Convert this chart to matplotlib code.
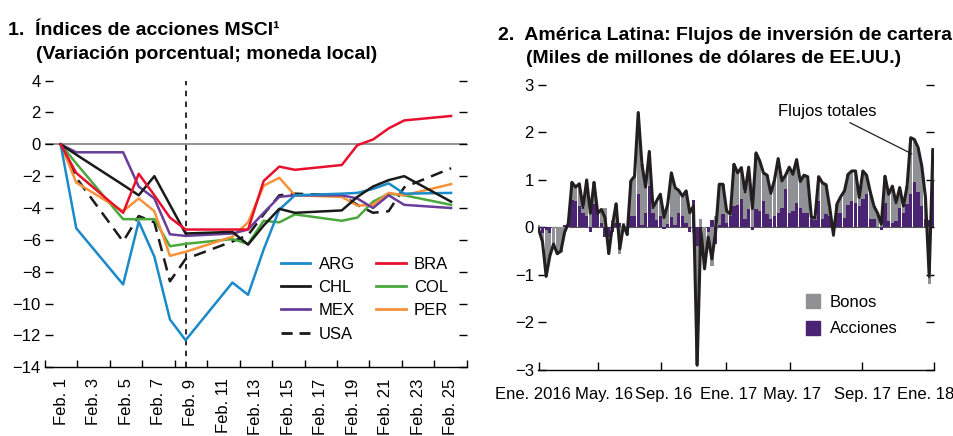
import numpy as np
import matplotlib
matplotlib.use("Agg")
import matplotlib.pyplot as plt
import matplotlib.transforms as mtransforms
from matplotlib.patches import Patch
from matplotlib.lines import Line2D

plt.rcParams['font.family'] = ['Liberation Sans Narrow', 'Liberation Sans', 'DejaVu Sans']
plt.rcParams['axes.unicode_minus'] = True

# --- Panel 1: MSCI equity indices, % change since Feb 1 ---
days = [1, 2, 5, 6, 7, 8, 9, 12, 13, 14, 15, 16, 19, 20, 21, 22, 23, 26]
arg = [0, -5.27, -8.8, -4.85, -7.05, -11.0, -12.3, -8.68, -9.45, -6.6, -4.1, -3.2, -3.1, -3.05, -2.8, -2.45, -3.1, -3.05]
bra = [0, -1.8, -4.3, -1.85, -3.2, -4.6, -5.35, -5.35, -5.35, -2.3, -1.4, -1.6, -1.3, -0.05, 0.3, 1.0, 1.5, 1.78]
chl = [0, -0.65, -2.55, -3.2, -2.0, -3.8, -5.6, -5.5, -6.3, -5.1, -4.05, -4.3, -4.15, -3.3, -2.65, -2.25, -2.0, -3.6]
col = [0, -1.2, -4.7, -4.7, -4.7, -6.4, -6.25, -5.95, -6.25, -4.8, -4.9, -4.4, -4.8, -4.6, -3.6, -3.1, -3.2, -3.8]
mex = [0, -0.5, -0.5, -2.65, -3.4, -5.65, -5.75, -5.6, -5.35, -4.3, -3.3, -3.2, -3.2, -3.4, -4.0, -3.2, -3.8, -4.0]
per = [0, -2.4, -4.2, -3.4, -4.2, -7.0, -6.75, -5.8, -4.9, -2.6, -2.1, -3.2, -3.3, -3.85, -3.8, -3.05, -3.2, -2.5]
usa = [0, -2.1, -6.1, -4.5, -4.9, -8.6, -7.2, -6.1, -5.7, -4.4, -3.2, -3.1, -3.2, -3.8, -4.3, -4.2, -2.7, -1.5]
feb_labels = ['Feb. %d' % d for d in range(1, 26, 2)]

# --- Panel 2: Latin America portfolio flows, weekly (US$ billions) ---
total_flows = [
    -0.05, -0.3, -1.03, -0.6, -0.35, -0.55, -0.5, -0.1, 0.08, 0.95,
    0.85, 0.92, 0.42, 1.0, 0.3, 0.95, 0.3, 0.38, 0.2, -0.55,
    0.05, 0.5, -0.45, 0.05, -0.15, 0.98, 1.08, 2.42, 1.33, 0.85,
    1.6, 0.42, 0.56, 0.7, 0.21, 0.49, 1.15, 0.84, 0.78, 0.66,
    0.77, 0.31, 0.45, -2.9, -0.03, -0.87, -0.2, -0.66, -0.1, 0.91,
    0.91, 0.35, 0.28, 1.33, 1.15, 1.26, 0.75, 1.27, 0.4, 1.57,
    1.4, 1.15, 1.1, 0.72, 1.0, 1.45, 0.98, 1.1, 1.27, 1.12,
    1.43, 0.97, 1.1, 1.07, 0.22, 0.2, 1.07, 0.94, 0.9, 0.42,
    -0.15, 0.5, 0.65, 0.77, 1.12, 1.19, 1.19, 0.63, 1.19, 1.1,
    0.75, 0.45, 0.3, 0.07, 1.08, 0.7, 0.87, 0.52, 0.84, 0.45,
    0.87, 1.89, 1.85, 1.68, 1.29, 0.63, -1.03, 1.64,
]
equity_flows = [
    -0.1, -0.12, -0.05, -0.12, 0.0, 0.02, 0.02, 0.05, 0.1, 0.57,
    0.56, 0.45, 0.3, 0.25, -0.1, 0.5, 0.3, 0.1, -0.2, -0.2,
    -0.1, 0.1, 0.1, -0.05, -0.05, 0.25, 0.25, 0.7, 0.05, 0.3,
    0.88, 0.3, 0.15, 0.25, -0.03, 0.07, 0.22, 0.05, 0.3, 0.25,
    0.1, -0.1, 0.57, -0.4, -0.2, 0.0, -0.1, 0.15, -0.35, 0.05,
    0.28, 0.1, 0.25, 0.45, 0.48, 0.59, 0.17, 0.38, -0.05, 0.38,
    0.35, 0.56, 0.28, 0.17, 0.24, 0.31, 0.42, 0.8, 0.31, 0.35,
    0.52, 0.42, 0.3, 0.3, 0.17, 0.15, 0.56, 0.17, 0.28, 0.25,
    0.05, 0.31, 0.31, 0.2, 0.48, 0.55, 0.52, 0.45, 0.6, 0.7,
    0.17, 0.17, 0.02, -0.05, 0.52, 0.14, 0.1, 0.14, 0.42, 0.31,
    0.49, 0.7, 0.95, 0.75, 0.45, 0.17, 0.15, 1.01,
]
month_labels = ['Ene. 2016', 'May. 16', 'Sep. 16', 'Ene. 17', 'May. 17', 'Sep. 17', 'Ene. 18']
month_ticks = [0, 16, 33.3, 50.9, 68.3, 87.8, 107.3]
month_label_pos = [-1.6, 17.6, 33.9, 51.5, 68.8, 87.8, 105.1]

fig = plt.figure(figsize=(9.54, 4.36), dpi=100)
FS = 12
TFS = 14

# ---------------- panel 1 ----------------
ax1 = fig.add_axes([0.0472, 0.1576, 0.442, 0.6575])
series = [('ARG', arg, '#1a8ac8', '-'), ('CHL', chl, '#1a1a1a', '-'),
          ('MEX', mex, '#6a3d9a', '-'), ('USA', usa, '#1a1a1a', '--'),
          ('BRA', bra, '#e8112d', '-'), ('COL', col, '#4aa83c', '-'),
          ('PER', per, '#f7923a', '-')]
draw_order = ['USA', 'COL', 'PER', 'MEX', 'ARG', 'CHL', 'BRA']
by_name = {s[0]: s for s in series}
for name in draw_order:
    _, vals, c, ls = by_name[name]
    if ls == '--':
        ax1.plot(days, vals, color=c, lw=1.8, ls=(0, (5, 3)), zorder=3)
    else:
        ax1.plot(days, vals, color=c, lw=1.8, zorder=3)
ax1.axhline(0, color='#7f7f7f', lw=1.2, zorder=1)
ax1.axvline(9, color='#1a1a1a', lw=1.3, ls=(0, (3, 3)), zorder=2)
ax1.set_xlim(0, 27)
ax1.set_ylim(-14, 4)
ax1.set_yticks(range(-14, 5, 2))
ax1.tick_params(axis='y', left=True, right=True, direction='in', length=6,
                width=1, pad=3, labelsize=FS)
for s in ['top', 'left', 'right']:
    ax1.spines[s].set_visible(False)
ax1.spines['bottom'].set_linewidth(1)
slot = 27 / 13
ax1.set_xticks([slot * k for k in range(14)])
ax1.set_xticklabels([])
ax1.tick_params(axis='x', which='major', direction='in', length=5, width=1)
ax1.set_xticks([slot * (k + 0.5) for k in range(13)], minor=True)
ax1.set_xticklabels(feb_labels, minor=True, rotation=90, fontsize=FS)
ax1.tick_params(axis='x', which='minor', length=0, pad=8)

handles = [Line2D([], [], color=c, lw=2, ls=(0, (4, 2.5)) if ls == '--' else '-')
           for _, _, c, ls in series]
ax1.legend(handles, [s[0] for s in series], ncol=2, loc='upper left',
           bbox_to_anchor=(0.54, 0.415), frameon=False, fontsize=FS,
           handlelength=1.75, handletextpad=0.5, columnspacing=1.3,
           labelspacing=0.5, borderpad=0)

fig.text(0.008, 1 - 35 / 436, '1.  Índices de acciones MSCI¹', fontsize=TFS,
         fontweight='bold', va='baseline', ha='left')
fig.text(0.038, 1 - 59 / 436, '(Variación porcentual; moneda local)', fontsize=TFS,
         fontweight='bold', va='baseline', ha='left')

# ---------------- panel 2 ----------------
ax2 = fig.add_axes([0.564, 0.1514, 0.415, 0.6537])
x = np.arange(len(total_flows))
eq = np.array(equity_flows)
bonds = np.array(total_flows) - eq
bond_base = np.where(np.sign(bonds) == np.sign(eq), eq, 0.0)
ax2.bar(x, eq, width=0.9, color='#4b2373', linewidth=0, zorder=2)
ax2.bar(x, bonds, bottom=bond_base, width=0.9, color='#8f9194', linewidth=0, zorder=2)
ax2.axhline(0, color='#555555', lw=0.8, zorder=1)
ax2.plot(x, total_flows, color='#231f20', lw=2.2, zorder=4)
ax2.set_xlim(-0.2, 107.3)
ax2.set_ylim(-3, 3)
ax2.set_yticks(range(-3, 4))
ax2.tick_params(axis='y', left=True, right=True, direction='in', length=6,
                width=1, pad=3, labelsize=FS)
ax2.set_xticks(month_ticks)
ax2.set_xticklabels([])
ax2.tick_params(axis='x', direction='in', length=6, width=1)
trans = mtransforms.blended_transform_factory(ax2.transData, ax2.transAxes)
for pos, lab in zip(month_label_pos, month_labels):
    ax2.text(pos, -0.06, lab, transform=trans, ha='center', va='top',
             fontsize=FS, clip_on=False)
for s in ['top', 'left', 'right']:
    ax2.spines[s].set_visible(False)
ax2.spines['bottom'].set_linewidth(1)

ax2.annotate('Flujos totales', xy=(101.3, 1.55), xytext=(91.6, 2.45),
             ha='right', va='center', fontsize=FS,
             arrowprops=dict(arrowstyle='-', lw=0.9, color='#231f20',
                             shrinkA=2, shrinkB=0))
ax2.legend([Patch(color='#8f9194'), Patch(color='#4b2373')], ['Bonos', 'Acciones'],
           loc='upper left', bbox_to_anchor=(0.655, 0.295), frameon=False,
           fontsize=FS, handlelength=0.85, handleheight=0.9, handletextpad=0.6,
           labelspacing=0.65, borderpad=0)

fig.text(0.522, 1 - 40 / 436, '2.  América Latina: Flujos de inversión de cartera',
         fontsize=TFS, fontweight='bold', va='baseline', ha='left')
fig.text(0.551, 1 - 63 / 436, '(Miles de millones de dólares de EE.UU.)', fontsize=TFS,
         fontweight='bold', va='baseline', ha='left')

fig.savefig('out.png', dpi=100)
